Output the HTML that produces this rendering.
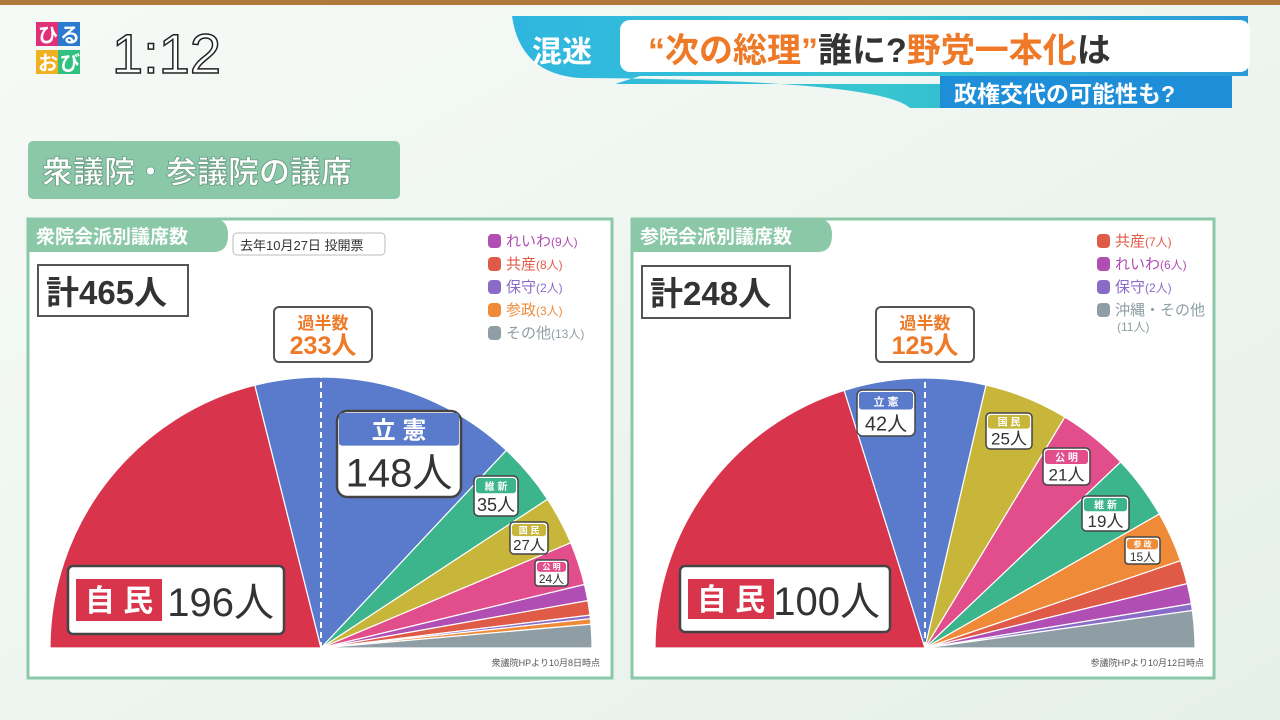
<!DOCTYPE html>
<html><head><meta charset="utf-8"><style>
html,body{margin:0;padding:0;width:1280px;height:720px;overflow:hidden;background:#eef4f0;font-family:"Liberation Sans","Noto Sans CJK JP",sans-serif}
svg text{font-family:"Liberation Sans","Noto Sans CJK JP",sans-serif}
</style></head><body>
<svg id="s" width="1280" height="720" viewBox="0 0 1280 720" xmlns="http://www.w3.org/2000/svg">
<defs>
<linearGradient id="bg" x1="0" y1="0" x2="1" y2="1"><stop offset="0" stop-color="#f6faf7"/><stop offset="1" stop-color="#e6f0ea"/></linearGradient>
<linearGradient id="ban" x1="0" y1="0" x2="1" y2="0"><stop offset="0" stop-color="#2fb6e0"/><stop offset="0.5" stop-color="#37c6d0"/><stop offset="1" stop-color="#2a9ad8"/></linearGradient>
</defs>
<rect width="1280" height="720" fill="url(#bg)"/>
<rect width="1280" height="5" fill="#b0783a"/>
<rect x="36" y="22" width="22" height="24" fill="#e0307a"/><rect x="58" y="22" width="22" height="24" fill="#2a7ad0"/>
<rect x="36" y="50" width="22" height="24" fill="#f0b020"/><rect x="58" y="50" width="22" height="24" fill="#30c080"/>
<text x="38" y="42" font-size="20" fill="#fff" font-weight="bold">ひ</text><text x="60" y="42" font-size="20" fill="#fff" font-weight="bold">る</text>
<text x="38" y="70" font-size="20" fill="#fff" font-weight="bold">お</text><text x="60" y="70" font-size="20" fill="#fff" font-weight="bold">び</text>
<text x="112" y="73" font-size="56" fill="#fff" stroke="#222" stroke-width="1.5">1:12</text>
<path d="M512 16 H1248 V76 H640 L615 84 L940 84 V108 H910 Q880 80 580 78 Q520 74 512 16Z" fill="url(#ban)"/>
<rect x="620" y="20" width="630" height="52" rx="10" fill="#fff"/>
<text x="532" y="62" font-size="30" font-weight="bold" fill="#fff">混迷</text>
<text x="648" y="62" font-size="34" font-weight="bold" fill="#ee7a28">“次の総理”<tspan fill="#333">誰に?</tspan>野党一本化<tspan fill="#333">は</tspan></text>
<rect x="940" y="76" width="292" height="32" fill="#1e8ed8"/>
<text x="954" y="102" font-size="23" font-weight="bold" fill="#fff">政権交代の可能性も?</text>
<rect x="28" y="141" width="372" height="58" rx="5" fill="#8ac8a8"/>
<text x="42" y="183" font-size="31" font-weight="bold" fill="#fff" stroke="#6a9a80" stroke-width="0.8">衆議院・参議院の議席</text>
<rect x="28" y="219" width="584" height="459" fill="#fff" stroke="#8ac8a8" stroke-width="3"/>
<rect x="632" y="219" width="582" height="459" fill="#fff" stroke="#8ac8a8" stroke-width="3"/>
<path d="M28 219 H214 Q228 219 228 235 Q228 252 214 252 H28Z" fill="#8ac8a8"/>
<path d="M632 219 H818 Q832 219 832 235 Q832 252 818 252 H632Z" fill="#8ac8a8"/>
<text x="36" y="243" font-size="19" font-weight="bold" fill="#fff">衆院会派別議席数</text>
<text x="640" y="243" font-size="19" font-weight="bold" fill="#fff">参院会派別議席数</text>
<rect x="233" y="233" width="152" height="22" rx="4" fill="#fff" stroke="#bbb"/>
<text x="240" y="250" font-size="13" fill="#333">去年10月27日 投開票</text>
<rect x="38" y="265" width="150" height="51" fill="#fff" stroke="#555" stroke-width="2"/>
<text x="46" y="304" font-size="33" font-weight="bold" fill="#333">計465人</text>
<rect x="642" y="266" width="148" height="52" fill="#fff" stroke="#555" stroke-width="2"/>
<text x="650" y="305" font-size="33" font-weight="bold" fill="#333">計248人</text>
<g id="pies"></g>
<g id="labels"></g>
<text x="600" y="666" font-size="9" fill="#555" text-anchor="end">衆議院HPより10月8日時点</text>
<text x="1204" y="666" font-size="9" fill="#555" text-anchor="end">参議院HPより10月12日時点</text>
</svg>
<script>
var NS="http://www.w3.org/2000/svg";
function el(t,a,p,txt){var e=document.createElementNS(NS,t);for(var k in a)e.setAttribute(k,a[k]);if(txt!==undefined)e.textContent=txt;(p||document.getElementById('s')).appendChild(e);return e;}
var C={red:"#d8344c",blue:"#5a7acc",green:"#3cb48c",yel:"#c8b63a",pink:"#e24e8c",pur:"#b04eb4",org:"#e05a48",vio:"#8a6cc8",ora:"#ee8a38",gray:"#8e9ea4"};
function pie(cx,cy,r,data,tot){
 var g=document.getElementById('pies'),a=Math.PI;
 data.forEach(function(d){
  var b=a-d[0]/tot*Math.PI;
  var x1=cx+r*Math.cos(a),y1=cy-r*Math.sin(a),x2=cx+r*Math.cos(b),y2=cy-r*Math.sin(b);
  el('path',{d:"M"+cx+" "+cy+" L"+x1+" "+y1+" A"+r+" "+r+" 0 0 1 "+x2+" "+y2+"Z",fill:C[d[1]],stroke:"#fff","stroke-width":1.2},g);
  a=b;});
 el('line',{x1:cx,y1:cy,x2:cx,y2:cy-r,stroke:"#fff","stroke-width":2,"stroke-dasharray":"6 4"},g);
}
pie(321,648,271,[[196,'red'],[148,'blue'],[35,'green'],[27,'yel'],[24,'pink'],[9,'pur'],[8,'org'],[2,'vio'],[3,'ora'],[13,'gray']],465);
pie(925,648,270,[[100,'red'],[42,'blue'],[25,'yel'],[21,'pink'],[19,'green'],[15,'ora'],[7,'org'],[6,'pur'],[2,'vio'],[11,'gray']],248);
var L=document.getElementById('labels');
function big(x,y,w,h,name,num,fs){
 el('rect',{x:x,y:y,width:w,height:h,rx:5,fill:"#fff",stroke:"#444","stroke-width":2.5},L);
 el('rect',{x:x+8,y:y+13,width:86,height:h-26,fill:C.red},L);
 el('text',{x:x+51,y:y+h/2+11,"font-size":30,"font-weight":"bold",fill:"#fff","text-anchor":"middle"},L,name);
 el('text',{x:x+w-10,y:y+h/2+16,"font-size":fs,fill:"#333","text-anchor":"end"},L,num);
}
big(68,566,216,68,"自 民","196人",40);
big(680,566,210,66,"自 民","100人",40);
function tag(x,y,w,h,name,num,col,fs1,fs2){
 el('rect',{x:x,y:y,width:w,height:h,rx:h*0.12,fill:"#fff",stroke:"#444","stroke-width":h>60?2.5:1.5},L);
 var hh=h*0.38;
 el('rect',{x:x+2,y:y+2,width:w-4,height:hh,rx:3,fill:col},L);
 el('text',{x:x+w/2,y:y+2+hh*0.78,"font-size":fs1,"font-weight":"bold",fill:"#fff","text-anchor":"middle"},L,name);
 el('text',{x:x+w/2,y:y+h-h*0.12,"font-size":fs2,fill:"#333","text-anchor":"middle"},L,num);
}
tag(337,411,124,86,"立 憲","148人",C.blue,24,40);
tag(474,476,44,40,"維 新","35人",C.green,10,18);
tag(510,522,38,32,"国 民","27人",C.yel,9,15);
tag(535,560,33,26,"公 明","24人",C.pink,8,12);
tag(857,390,58,46,"立 憲","42人",C.blue,11,20);
tag(986,413,46,36,"国 民","25人",C.yel,10,17);
tag(1043,448,47,37,"公 明","21人",C.pink,10,17);
tag(1082,496,47,35,"維 新","19人",C.green,10,17);
tag(1125,537,35,27,"参 政","15人",C.ora,8,12);
function maj(x,y,num){
 el('rect',{x:x,y:y,width:98,height:55,rx:5,fill:"#fff",stroke:"#555","stroke-width":2},L);
 el('text',{x:x+49,y:y+22,"font-size":17,"font-weight":"bold",fill:"#ee7a28","text-anchor":"middle"},L,"過半数");
 el('text',{x:x+49,y:y+47,"font-size":25,"font-weight":"bold",fill:"#ee7a28","text-anchor":"middle"},L,num);
}
maj(274,307,"233人");maj(876,307,"125人");
function leg(x,y,items){items.forEach(function(it,i){
 el('rect',{x:x,y:y+i*23-12,width:13,height:14,rx:4,fill:C[it[0]]},L);
 var t=el('text',{x:x+18,y:y+i*23,"font-size":15,fill:C[it[0]]},L,it[1]);
 el('tspan',{"font-size":12},t,it[2]);
});}
leg(488,246,[['pur','れいわ','(9人)'],['org','共産','(8人)'],['vio','保守','(2人)'],['ora','参政','(3人)'],['gray','その他','(13人)']]);
leg(1097,246,[['org','共産','(7人)'],['pur','れいわ','(6人)'],['vio','保守','(2人)'],['gray','沖縄・その他','']]);
el('text',{x:1117,y:331,"font-size":12,fill:C.gray},L,"(11人)");
</script>
</body></html>
